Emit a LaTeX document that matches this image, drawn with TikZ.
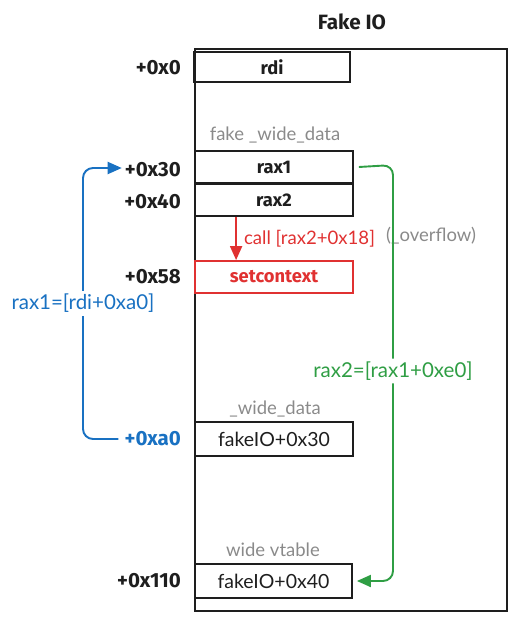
\documentclass[tikz,border=0pt]{standalone}
\usepackage{fontspec}
\setmainfont{Lato}
\newfontfamily\boldfont{Fira Sans}
\usepackage{tikz}
\usetikzlibrary{arrows.meta,calc}
\definecolor{inkblack}{HTML}{1E1E1E}
\definecolor{inkblue}{HTML}{1971C2}
\definecolor{inkgreen}{HTML}{2F9E44}
\definecolor{inkred}{HTML}{E03131}
\definecolor{inkgray}{HTML}{8A8A8A}
\tikzstyle{slot}=[draw=inkblack, line width=1.8pt, minimum width=158pt, minimum height=32pt, inner sep=0pt, text=inkblack, font=\fontsize{19.5}{21}\selectfont]
\tikzstyle{slotB}=[slot, font=\boldfont\bfseries\fontsize{18.3}{20}\selectfont]
\tikzstyle{offset}=[anchor=east, inner sep=0pt, text=inkblack, font=\boldfont\bfseries\fontsize{20.5}{22}\selectfont]
\tikzstyle{note}=[inner sep=0pt, text=inkgray, font=\fontsize{18.5}{20}\selectfont]
\tikzstyle{link}=[line width=1.9pt, rounded corners=10pt, -{Triangle[length=14pt,width=12pt]}]
\begin{document}
\begin{tikzpicture}[x=1pt, y=-1pt]
      \useasboundingbox (0,0) rectangle (516,620);
      %%%%%%%%%%%% Fake IO
      \node(title) [inner sep=0pt, text=inkblack, font=\boldfont\bfseries\fontsize{20.7}{22}\selectfont] at (352, 22){Fake IO};
      \node(fakeio) [draw=inkblack, line width=1.8pt, minimum width=312pt, minimum height=562pt, inner sep=0pt] at (351, 330){};
      %%%%%%%%%%%% slots
      \node(rdi) [slotB, minimum width=156pt, minimum height=30pt] at (272, 67){rdi};
      \node(rax1) [slotB] at (274, 167){rax1};
      \node(rax2) [slotB] at (274, 200){rax2};
      \node(setctx) [slotB, draw=inkred, text=inkred] at (274, 277){setcontext};
      \node(wide) [slot, minimum height=34pt] at (274, 439){fakeIO+0x30};
      \node(vtable) [slot, minimum width=157pt, minimum height=34pt] at (273.5, 581){fakeIO+0x40};
      %%%%%%%%%%%% offsets
      \node(off0) [offset] at (181, 68){+0x0};
      \node(off30) [offset] at (181, 170){+0x30};
      \node(off40) [offset] at (181, 202){+0x40};
      \node(off58) [offset] at (181, 277){+0x58};
      \node(offa0) [offset, text=inkblue] at (181, 439){+0xa0};
      \node(off110) [offset] at (181, 581){+0x110};
      %%%%%%%%%%%% notes
      \node(fakewide) [note] at (275, 135){fake \_wide\_data};
      \node(widedata) [note] at (275, 409){\_wide\_data};
      \node(widevt) [note] at (273, 550){wide vtable};
      \node(overflow) [note, anchor=west] at (386, 236){(\_overflow)};
      %%%%%%%%%%%% links
      \coordinate (bluex) at (83, 0);
      \coordinate (greenx) at (393, 0);
      \draw[link, draw=inkred, fill=inkred, rounded corners=0pt] ([xshift=42pt]rax2.south west) to node[right=7pt, inner sep=0pt, text=inkred, font=\fontsize{18.6}{20}\selectfont]{call [rax2+0x18]} ([xshift=42pt]setctx.north west);
      \draw[link, draw=inkblue, fill=none] ([xshift=-6pt]offa0.west) -- (offa0.west -| bluex) -- node[fill=white, inner sep=3pt, text=inkblue, font=\fontsize{20.5}{22}\selectfont]{rax1=[rdi+0xa0]} ([yshift=2pt]off30.west -| bluex) -- ([xshift=-3pt, yshift=2pt]off30.west);
      \draw[link, draw=inkgreen, fill=none] ([xshift=5pt]rax1.east) -- ([yshift=2pt]rax1.east -| greenx) -- node[pos=0.495, fill=white, inner sep=3pt, text=inkgreen, font=\fontsize{20.5}{22}\selectfont]{rax2=[rax1+0xe0]} (vtable.east -| greenx) -- ([xshift=4pt]vtable.east);
\end{tikzpicture}
\end{document}
